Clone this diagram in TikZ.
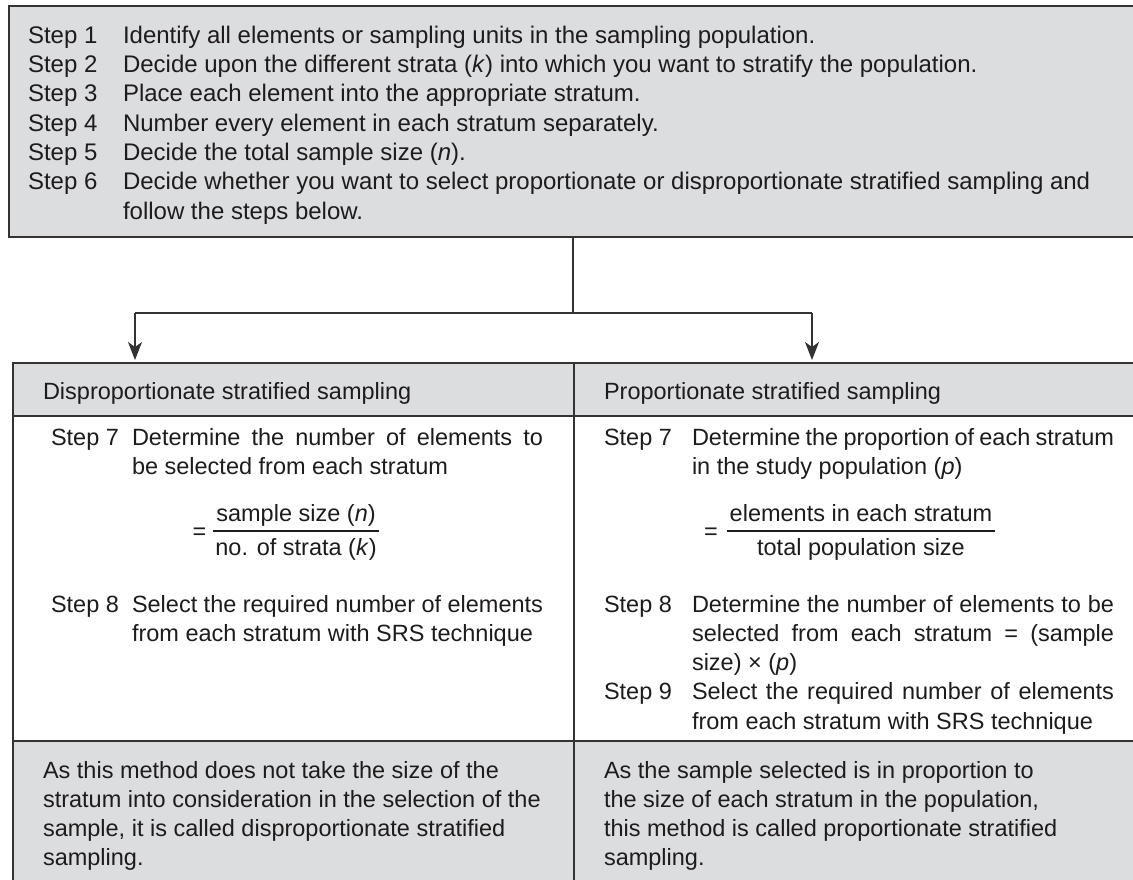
\documentclass[tikz,border=0pt]{standalone}
\usepackage{fontspec}
\setmainfont{Liberation Sans}
\usetikzlibrary{arrows.meta}
\definecolor{boxfill}{HTML}{DCDDDF}
\definecolor{ink}{HTML}{1E1B1C}
\definecolor{rulecol}{HTML}{333333}
\newcommand\bodyfs{\fontsize{23.5}{29.3}\selectfont}
\newcommand\topfs{\fontsize{24}{29.3}\selectfont}
\begin{document}
\begin{tikzpicture}[x=1pt,y=-1pt,
  txt/.style={anchor=base west, inner sep=0pt, outer sep=0pt, text=ink, font=\bodyfs},
  ttxt/.style={txt, font=\topfs},
  ctxt/.style={anchor=base, inner sep=0pt, outer sep=0pt, text=ink, font=\bodyfs},
  eqs/.style={anchor=base east, inner sep=0pt, outer sep=0pt, text=ink, font=\bodyfs},
  cell/.style={draw=rulecol, line width=2pt, anchor=north west, inner sep=0pt, outer sep=0pt},
  conn/.style={draw=rulecol, line width=1.5pt},
  fbar/.style={draw=ink, line width=1.3pt},
  arr/.style={conn, -{Stealth[length=18pt,width=14pt,inset=5pt]}}]
\useasboundingbox (0,0) rectangle (1133,880);
% top box
\node[cell, fill=boxfill, minimum width=1140pt, minimum height=231pt] (top) at (9,6) {};
% table cells
\node[cell, fill=boxfill, minimum width=561pt, minimum height=53pt] (hdrL) at (13,363) {};
\node[cell, fill=boxfill, minimum width=570pt, minimum height=53pt] (hdrR) at (574,363) {};
\node[cell, fill=white, minimum width=561pt, minimum height=325pt] (bodyL) at (13,416) {};
\node[cell, fill=white, minimum width=570pt, minimum height=325pt] (bodyR) at (574,416) {};
\node[cell, fill=boxfill, minimum width=561pt, minimum height=150pt] (footL) at (13,741) {};
\node[cell, fill=boxfill, minimum width=570pt, minimum height=150pt] (footR) at (574,741) {};
% connectors
\coordinate (split) at (573,313);
\coordinate (jl) at (135,313);
\coordinate (jr) at (812,313);
\draw[conn] (top.south -| split) -- (split);
\draw[conn] (jl) -- (jr);
\draw[arr] (jl) -- ([yshift=3pt]jl |- hdrL.north);
\draw[arr] (jr) -- ([yshift=3pt]jr |- hdrR.north);
% top texts
\node[ttxt] (s1) at (28,43.3) {Step 1};
\node[ttxt] (d1) at (123,43.3) {Identify all elements or sampling units in the sampling population.};
\node[ttxt] (s2) at (28,72.6) {Step 2};
\node[ttxt] (d2) at (123,72.6) {Decide upon the different strata (\textit{k}) into which you want to stratify the population.};
\node[ttxt] (s3) at (28,101.9) {Step 3};
\node[ttxt] (d3) at (123,101.9) {Place each element into the appropriate stratum.};
\node[ttxt] (s4) at (28,131.2) {Step 4};
\node[ttxt] (d4) at (123,131.2) {Number every element in each stratum separately.};
\node[ttxt] (s5) at (28,160.5) {Step 5};
\node[ttxt] (d5) at (123,160.5) {Decide the total sample size (\textit{n}).};
\node[ttxt] (s6) at (28,189.8) {Step 6};
\node[ttxt] (d6) at (123,189.8) {Decide whether you want to select proportionate or disproportionate stratified sampling and};
\node[ttxt] (d6b) at (123,219.1) {follow the steps below.};
% headers
\node[txt] (hL) at (43,399) {Disproportionate stratified sampling};
\node[txt] (hR) at (604,399) {Proportionate stratified sampling};
% left body
\node[txt] (ls7) at (51,445) {Step 7};
\node[txt] (ld7a) at (132,445) {\makebox[411pt][s]{Determine the number of elements to}};
\node[txt] (ld7b) at (132,474.3) {be selected from each stratum};
\node[ctxt] (lnum) at (296,521) {sample size (\textit{n})};
\node[ctxt] (lden) at (296,555) {no. of strata (\textit{k})};
\draw[fbar] ([xshift=-3pt,yshift=-10pt]lnum.base west) -- ([xshift=3pt,yshift=-10pt]lnum.base east);
\node[eqs] (leq) at ([xshift=-10pt,yshift=-18pt]lnum.base west) {=};
\node[txt] (ls8) at (51,612) {Step 8};
\node[txt] (ld8a) at (132,612) {\makebox[411pt][s]{Select the required number of elements}};
\node[txt] (ld8b) at (132,641.3) {from each stratum with SRS technique};
% right body
\node[txt] (rs7) at (604,445) {Step 7};
\node[txt] (rd7a) at (692,445) {\makebox[422pt][s]{Determine the proportion of each stratum}};
\node[txt] (rd7b) at (692,474.3) {in the study population (\textit{p})};
\node[ctxt] (rnum) at (861,521) {elements in each stratum};
\node[ctxt] (rden) at (861,555) {total population size};
\draw[fbar] ([xshift=-3pt,yshift=-10pt]rnum.base west) -- ([xshift=3pt,yshift=-10pt]rnum.base east);
\node[eqs] (req) at ([xshift=-12pt,yshift=-18pt]rnum.base west) {=};
\node[txt] (rs8) at (604,612) {Step 8};
\node[txt] (rd8a) at (692,612) {\makebox[422pt][s]{Determine the number of elements to be}};
\node[txt] (rd8b) at (692,641.3) {\makebox[422pt][s]{selected from each stratum = (sample}};
\node[txt] (rd8c) at (692,670.6) {size) × (\textit{p})};
\node[txt] (rs9) at (604,699.9) {Step 9};
\node[txt] (rd9a) at (692,699.9) {\makebox[422pt][s]{Select the required number of elements}};
\node[txt] (rd9b) at (692,729.2) {from each stratum with SRS technique};
% footers
\node[txt] (fl1) at (43,778) {As this method does not take the size of the};
\node[txt] (fl2) at (43,807.3) {stratum into consideration in the selection of the};
\node[txt] (fl3) at (43,836.6) {sample, it is called disproportionate stratified};
\node[txt] (fl4) at (43,865.9) {sampling.};
\node[txt] (fr1) at (604,778) {As the sample selected is in proportion to};
\node[txt] (fr2) at (604,807.3) {the size of each stratum in the population,};
\node[txt] (fr3) at (604,836.6) {this method is called proportionate stratified};
\node[txt] (fr4) at (604,865.9) {sampling.};
\end{tikzpicture}
\end{document}
